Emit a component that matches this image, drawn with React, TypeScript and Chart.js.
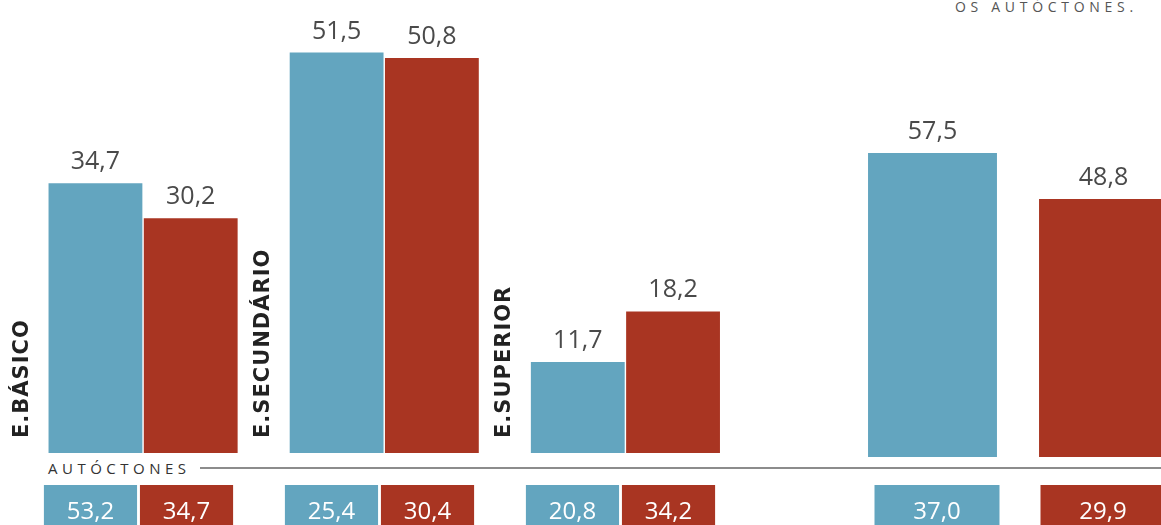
import React, { useEffect, useRef } from "react";
import { Chart, registerables } from "chart.js";

Chart.register(...registerables);

// ---- data ----
const levels = ["E.BÁSICO", "E.SECUNDÁRIO", "E.SUPERIOR"];
const blueByLevel = [34.7, 51.5, 11.7];
const redByLevel = [30.2, 50.8, 18.2];
const overallLabels = ["A", "B"];
const overallValues = [57.5, 48.8];
const autoctonesBlue = [53.2, 25.4, 20.8];
const autoctonesRed = [34.7, 30.4, 34.2];
const autoctonesOverall = [37.0, 29.9];
const rowLabel = "AUTÓCTONES";
const cornerNote = "OS AUTÓCTONES.";

const BLUE = "#63a5bf";
const RED = "#a93522";
const VALUE_FONT = "'Open Sans', 'DejaVu Sans', sans-serif";

const fmt = (v: number) => v.toFixed(1).replace(".", ",");

const valueLabels = (mode: "above" | "inside") => ({
  id: "valueLabels",
  afterDatasetsDraw(chart: any) {
    const ctx = chart.ctx;
    ctx.save();
    ctx.textAlign = "center";
    ctx.textBaseline = "alphabetic";
    chart.data.datasets.forEach((ds: any, di: number) => {
      const meta = chart.getDatasetMeta(di);
      meta.data.forEach((bar: any, i: number) => {
        const v = ds.data[i];
        if (v == null) return;
        if (mode === "above") {
          ctx.fillStyle = "#4a4a4a";
          ctx.font = `25px ${VALUE_FONT}`;
          ctx.fillText(fmt(v), bar.x, bar.y - 14);
        } else {
          ctx.fillStyle = "#ffffff";
          ctx.font = `24px ${VALUE_FONT}`;
          ctx.fillText(fmt(v), bar.x, bar.base + 34);
        }
      });
    });
    ctx.restore();
  },
});

const levelLabels = {
  id: "levelLabels",
  afterDatasetsDraw(chart: any) {
    const ctx = chart.ctx;
    const meta = chart.getDatasetMeta(0);
    ctx.save();
    ctx.fillStyle = "#222222";
    ctx.font = "bold 21px 'DejaVu Sans', sans-serif";
    (ctx as any).letterSpacing = "1px";
    ctx.textAlign = "left";
    ctx.textBaseline = "middle";
    chart.data.labels.forEach((lab: string, i: number) => {
      const bar: any = meta.data[i];
      const x = bar.x - bar.width / 2 - 26;
      const y = chart.chartArea.bottom - 15;
      ctx.save();
      ctx.translate(x, y);
      ctx.rotate(-Math.PI / 2);
      ctx.fillText(lab, 0, 0);
      ctx.restore();
    });
    ctx.restore();
  },
};

const baseOptions = (yMax: number, reverse: boolean, padLeft: number) => ({
  responsive: false,
  animation: false as const,
  layout: { padding: { left: padLeft, right: 0, top: 0, bottom: 0 } },
  plugins: { legend: { display: false }, tooltip: { enabled: false } },
  scales: {
    x: { display: false },
    y: { display: false, min: 0, max: yMax, reverse },
  },
});

function ChartCanvas({ config, left, top, width, height }: any) {
  const ref = useRef<HTMLCanvasElement>(null);
  useEffect(() => {
    const chart = new Chart(ref.current!, config);
    return () => chart.destroy();
  }, []);
  return (
    <canvas
      ref={ref}
      width={width}
      height={height}
      style={{ position: "absolute", left, top, width, height }}
    />
  );
}

export default function App() {
  useEffect(() => {
    document.body.style.margin = "0";
  }, []);

  const levelsChart = {
    type: "bar",
    data: {
      labels: levels,
      datasets: [
        { data: blueByLevel, backgroundColor: BLUE, categoryPercentage: 0.79, barPercentage: 0.985 },
        { data: redByLevel, backgroundColor: RED, categoryPercentage: 0.79, barPercentage: 0.985 },
      ],
    },
    options: baseOptions(58.26, false, 22.5),
    plugins: [valueLabels("above"), levelLabels],
  };

  const overallChart = {
    type: "bar",
    data: {
      labels: overallLabels,
      datasets: [
        { data: overallValues, backgroundColor: [BLUE, RED], categoryPercentage: 1, barPercentage: 0.754 },
      ],
    },
    options: baseOptions(86.44, false, 0),
    plugins: [valueLabels("above")],
  };

  const autLevelsChart = {
    type: "bar",
    data: {
      labels: levels,
      datasets: [
        { data: autoctonesBlue, backgroundColor: BLUE, categoryPercentage: 0.797, barPercentage: 0.97 },
        { data: autoctonesRed, backgroundColor: RED, categoryPercentage: 0.797, barPercentage: 0.97 },
      ],
    },
    options: baseOptions(59.2, true, 18),
    plugins: [valueLabels("inside")],
  };

  const autOverallChart = {
    type: "bar",
    data: {
      labels: overallLabels,
      datasets: [
        { data: autoctonesOverall, backgroundColor: [BLUE, RED], categoryPercentage: 1, barPercentage: 0.753 },
      ],
    },
    options: baseOptions(87, true, 0),
    plugins: [valueLabels("inside")],
  };

  return (
    <div
      style={{
        position: "fixed",
        left: 0,
        top: 0,
        width: 1161,
        height: 525,
        overflow: "hidden",
        background: "#ffffff",
      }}
    >
      <div
        style={{
          position: "absolute",
          left: 955,
          top: 0,
          font: "14px 'Open Sans', sans-serif",
          lineHeight: "14px",
          letterSpacing: "4.7px",
          color: "#555555",
          whiteSpace: "nowrap",
        }}
      >
        {cornerNote}
      </div>
      <ChartCanvas config={levelsChart} left={0} top={0} width={746} height={453} />
      <ChartCanvas config={overallChart} left={847} top={0} width={342} height={457} />
      <div
        style={{
          position: "absolute",
          left: 48,
          top: 461,
          font: "15px 'Open Sans', sans-serif",
          lineHeight: "15px",
          letterSpacing: "4.5px",
          color: "#333333",
          whiteSpace: "nowrap",
        }}
      >
        {rowLabel}
      </div>
      <div
        style={{
          position: "absolute",
          left: 200,
          top: 467,
          width: 961,
          height: 2,
          background: "#8c8c8c",
        }}
      />
      <ChartCanvas config={autLevelsChart} left={0} top={485} width={741} height={460} />
      <ChartCanvas config={autOverallChart} left={854} top={485} width={332} height={460} />
    </div>
  );
}
